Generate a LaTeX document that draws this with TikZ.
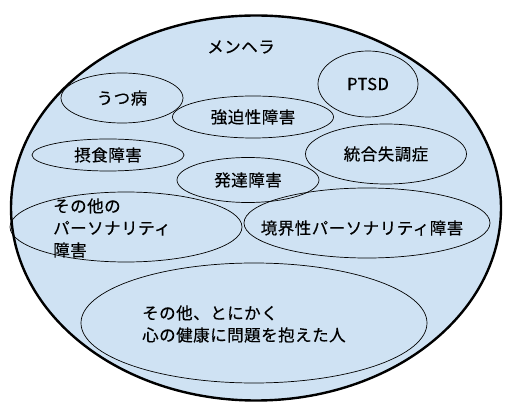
\documentclass[tikz,border=0pt]{standalone}
\usepackage{fontspec}
\setmainfont{Noto Sans CJK JP}[LetterSpace=3, FakeBold=0.4]
\usetikzlibrary{shapes.geometric}
\definecolor{fillblue}{HTML}{CFE2F3}
\definecolor{txt}{HTML}{000000}
\tikzset{
  sub/.style={ellipse, draw=black, line width=0.7pt, inner sep=0pt},
  lbl/.style={font=\fontsize{16.5}{22}\selectfont, text=txt, inner sep=0pt}
}
\begin{document}
\begin{tikzpicture}[x=1pt,y=-1pt]
\useasboundingbox (0,0) rectangle (531,414);
\node[ellipse, draw=black, line width=2.4pt, fill=fillblue, minimum width=490pt, minimum height=385pt, inner sep=0pt] (big) at (256,208) {};
\node[lbl] (menhera) at (241,47) {メンヘラ};
\node[sub, minimum width=122pt, minimum height=50pt] (utsu) at (122,98) {};
\node[lbl] (utsut) at (utsu) {うつ病};
\node[sub, minimum width=100pt, minimum height=66pt] (ptsd) at (368,84) {};
\node[lbl] (ptsdt) at (ptsd) {PTSD};
\node[sub, minimum width=161pt, minimum height=42pt] (kyo) at (253,117) {};
\node[lbl] (kyot) at (kyo) {強迫性障害};
\node[sub, minimum width=152pt, minimum height=32pt] (sess) at (108,155) {};
\node[lbl] (sesst) at (sess) {摂食障害};
\node[sub, minimum width=161pt, minimum height=60pt] (toug) at (386,154) {};
\node[lbl] (tougt) at (toug) {統合失調症};
\node[sub, minimum width=142pt, minimum height=45pt] (hat) at (248,180) {};
\node[lbl] (hatt) at (hat) {発達障害};
\node[sub, minimum width=232pt, minimum height=70pt] (opd) at (126,227) {};
\node[lbl, align=left, anchor=west] (opdt) at (53,228) {その他の\\パーソナリティ\\障害};
\node[sub, minimum width=246pt, minimum height=70pt] (bpd) at (367,223) {};
\node[lbl] (bpdt) at (362,228) {境界性パーソナリティ障害};
\node[sub, minimum width=346pt, minimum height=120pt] (other) at (254,323) {};
\node[lbl, align=left, anchor=west] (othert) at (142,324) {その他、とにかく\\心の健康に問題を抱えた人};
\end{tikzpicture}
\end{document}
